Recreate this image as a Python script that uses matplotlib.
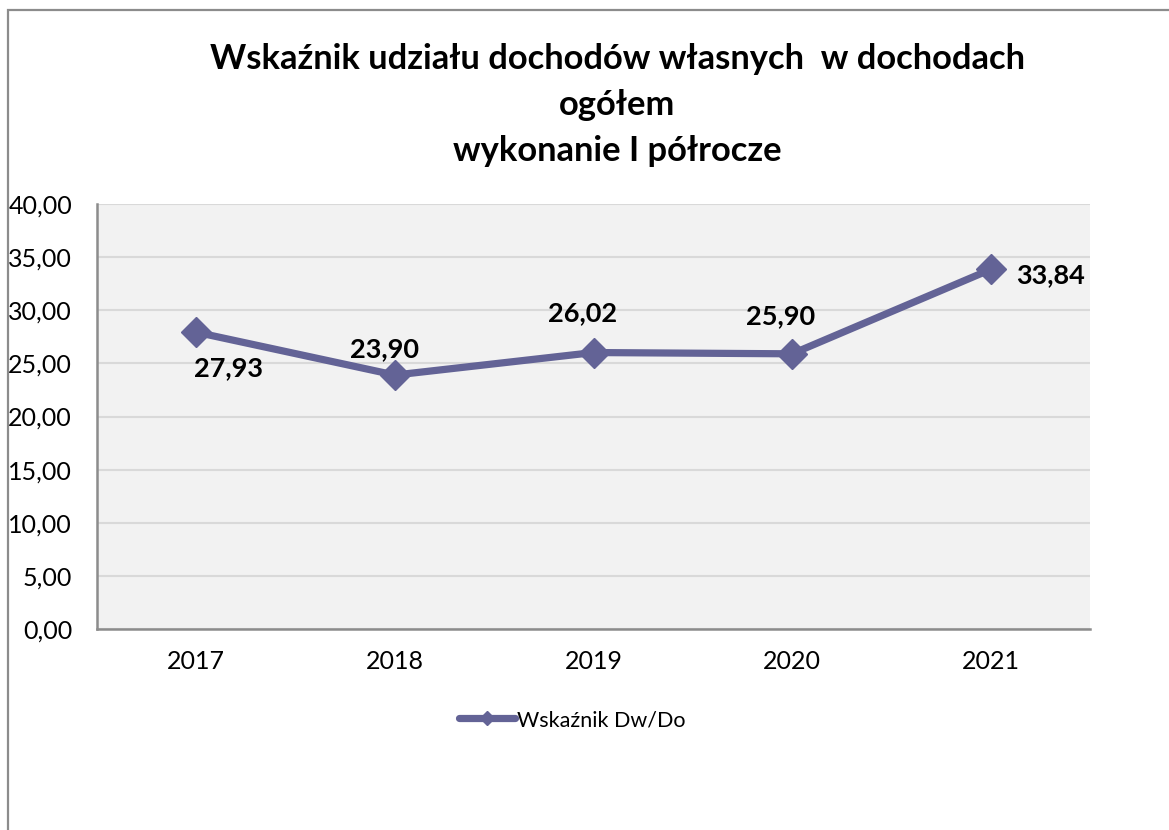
import matplotlib
matplotlib.use("Agg")
import matplotlib.pyplot as plt
from matplotlib.patches import Rectangle

years = ["2017", "2018", "2019", "2020", "2021"]
values = [27.93, 23.90, 26.02, 25.90, 33.84]
labels = ["27,93", "23,90", "26,02", "25,90", "33,84"]
yticks = [0, 5, 10, 15, 20, 25, 30, 35, 40]
ytick_labels = ["0,00", "5,00", "10,00", "15,00", "20,00", "25,00", "30,00", "35,00", "40,00"]
series_name = "Wskaźnik Dw/Do"
title = "Wskaźnik udziału dochodów własnych  w dochodach\nogółem\nwykonanie I półrocze"

plt.rcParams['font.family'] = ['Lato', 'DejaVu Sans']

W, H = 1169, 830
fig = plt.figure(figsize=(W / 100, H / 100), dpi=100)
fig.patch.set_facecolor("white")

# outer chart frame (cropped on right and bottom)
fig.patches.append(Rectangle((7.5 / W, -0.1), 1.2, 1 - 10.5 / H + 0.1,
                             transform=fig.transFigure, fill=False,
                             edgecolor="#8c8c8c", linewidth=1.6, zorder=0))

ax = fig.add_axes([97 / W, 1 - 629 / H, (1090 - 97) / W, (629 - 204) / H])
ax.set_facecolor("#f2f2f2")

x = list(range(len(years)))
color = "#636396"
ax.plot(x, values, color=color, linewidth=5.2, marker="D", markersize=15,
        solid_capstyle="round", label=series_name, zorder=3)

offsets = [(23, -26), (-7.5, 19), (-8, 28.5), (-8.5, 27), (43, -4)]
for xi, v, lab, off in zip(x, values, labels, offsets):
    ax.annotate(lab, (xi, v), xytext=off, textcoords="offset points",
                ha="center", va="center", fontsize=19.5, fontweight="bold",
                color="black", zorder=4)

ax.set_xlim(-0.5, len(years) - 0.5)
ax.set_ylim(0, 40)
ax.set_yticks(yticks)
ax.set_yticklabels(ytick_labels)
ax.set_xticks(x)
ax.set_xticklabels(years)
ax.tick_params(axis="both", length=0, labelsize=18, colors="black")
ax.tick_params(axis="y", pad=18)
ax.tick_params(axis="x", pad=15)
ax.grid(axis="y", color="#d9d9d9", linewidth=1.5, zorder=1)
ax.set_axisbelow(True)
for s in ["top", "right"]:
    ax.spines[s].set_visible(False)
for s in ["left", "bottom"]:
    ax.spines[s].set_color("#8c8c8c")
    ax.spines[s].set_linewidth(1.8)

fig.text(617 / W, 1 - 105 / H, title, ha="center", va="center",
         fontsize=24.8, fontweight="bold", linespacing=1.55)

leg = fig.legend(loc="center", bbox_to_anchor=(572 / W, 1 - 720 / H),
                 frameon=False, fontsize=15.5, handlelength=2.6,
                 handletextpad=0.1, markerscale=0.45)

fig.savefig("out.png", dpi=100, facecolor="white")
